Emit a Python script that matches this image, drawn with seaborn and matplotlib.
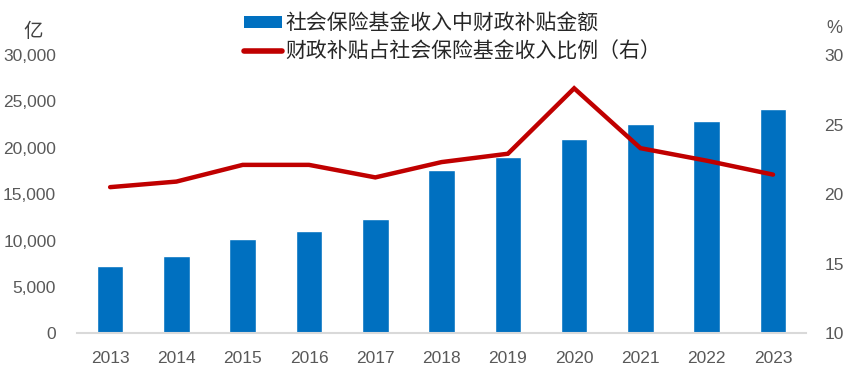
import numpy as np
import pandas as pd
import matplotlib
matplotlib.use('Agg')
import matplotlib.pyplot as plt
import seaborn as sns
from matplotlib.patches import Patch
from matplotlib.lines import Line2D
from matplotlib.ticker import FuncFormatter, FixedLocator

# data
years = ["2013", "2014", "2015", "2016", "2017", "2018", "2019", "2020", "2021", "2022", "2023"]
subsidy_amount = [7260, 8330, 10170, 11030, 12320, 17600, 19000, 20950, 22560, 22890, 24180]  # 亿
subsidy_ratio = [20.5, 20.9, 22.1, 22.1, 21.2, 22.3, 22.9, 27.6, 23.3, 22.4, 21.4]  # %

bar_label = "社会保险基金收入中财政补贴金额"
line_label = "财政补贴占社会保险基金收入比例（右）"

BLUE = "#0070C0"
RED = "#C00000"
GRAY = "#595959"
AXIS = "#D9D9D9"

sns.set_style("white")
plt.rcParams['font.family'] = ['Liberation Sans', 'Noto Sans CJK SC', 'DejaVu Sans']

df = pd.DataFrame({"year": years, "amount": subsidy_amount, "ratio": subsidy_ratio})

fig = plt.figure(figsize=(8.65, 3.76), dpi=100)
ax = fig.add_axes([0.089, 0.1135, 0.843, 0.7405])

sns.barplot(data=df, x="year", y="amount", color=BLUE, width=0.4,
            saturation=1, ax=ax, zorder=2)
ax.set_xlim(-0.5, len(years) - 0.5)
ax.set_ylim(0, 30000)
ax.set_yticks(np.arange(0, 30001, 5000))
ax.yaxis.set_major_formatter(FuncFormatter(lambda v, p: f"{int(v):,}"))
ax.set_xlabel("")
ax.set_ylabel("")

ax2 = ax.twinx()
sns.lineplot(x=df.index, y=df["ratio"], color=RED, linewidth=3.2, ax=ax2,
             solid_joinstyle='miter', zorder=3)
ax2.set_ylim(10, 30)
ax2.set_yticks(np.arange(10, 31, 5))
ax2.set_ylabel("")
ax2.set_xlim(-0.5, len(years) - 0.5)

for a in (ax, ax2):
    for s in a.spines.values():
        s.set_visible(False)
ax.spines['bottom'].set_visible(True)
ax.spines['bottom'].set_color(AXIS)
ax.spines['bottom'].set_linewidth(1.5)

ax.tick_params(axis='y', length=0, pad=15, labelsize=12.5, labelcolor=GRAY)
ax2.tick_params(axis='y', length=0, pad=13, labelsize=12.5, labelcolor=GRAY)
ax.tick_params(axis='x', which='major', length=0, pad=13, labelsize=12.5, labelcolor=GRAY)
ax.xaxis.set_minor_locator(FixedLocator(np.arange(-0.5, len(years), 1.0)))
ax.tick_params(axis='x', which='minor', length=5, width=1.5, color=AXIS, direction='out')

fig.text(0.038, 0.915, "亿", fontsize=14, color="#404040", ha='center', va='center',
         family=['Noto Sans CJK SC', 'DejaVu Sans'])
fig.text(0.965, 0.925, "%", fontsize=13, color=GRAY, ha='center', va='center')

handles = [Patch(facecolor=BLUE, edgecolor='none'),
           Line2D([0], [0], color=RED, linewidth=4)]
fig.legend(handles, [bar_label, line_label], loc='upper left',
           bbox_to_anchor=(0.272, 0.99), frameon=False, ncol=1,
           prop={'family': ['Noto Sans CJK SC', 'DejaVu Sans'], 'size': 15},
           handlelength=1.85, handleheight=0.5, handletextpad=0.15,
           labelspacing=0.3, labelcolor="#262626", borderaxespad=0)

fig.savefig("out.png", dpi=100)
